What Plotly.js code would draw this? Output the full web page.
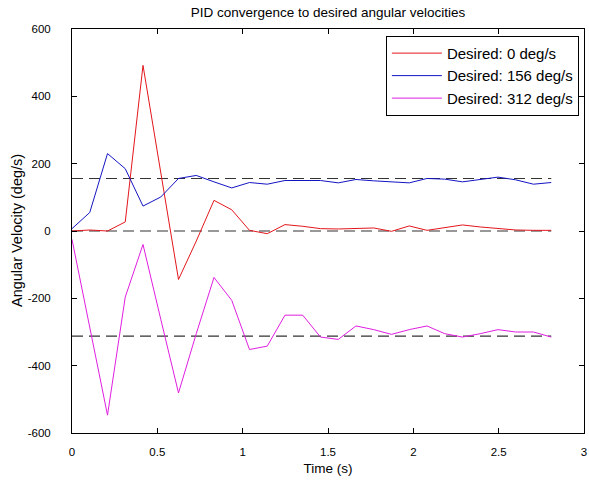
<!DOCTYPE html>
<html>
<head>
<meta charset="utf-8">
<script src="https://cdn.plot.ly/plotly-3.0.1.min.js"></script>
<style>html,body{margin:0;padding:0;background:#fff;}#chart{width:589px;height:482px;}</style>
</head>
<body>
<div id="chart"></div>
<script>
const time = [0, 0.104, 0.208, 0.312, 0.416, 0.52, 0.624, 0.728, 0.832, 0.936,
  1.04, 1.144, 1.248, 1.352, 1.456, 1.56, 1.664, 1.768, 1.872, 1.976,
  2.08, 2.184, 2.288, 2.392, 2.496, 2.6, 2.704, 2.808];
const desired0 = [0, 3, 0, 27, 492, 175, -144, -30, 91, 63,
  2, -8, 19, 14, 7, 6, 7, 9, -1, 15,
  2, 10, 18, 12, 8, 3, 2, 2];
const desired156 = [7, 55, 230, 185, 74, 101, 156, 165, 146, 128,
  144, 139, 150, 150, 150, 143, 153, 149, 147, 143,
  156, 154, 146, 153, 160, 152, 139, 144];
const desired312 = [-25, -290, -547, -196, -40, -262, -481, -305, -138, -206,
  -352, -342, -250, -250, -315, -322, -282, -293, -307, -293,
  -282, -305, -315, -305, -293, -300, -300, -315];
const refLevels = [156, 0, -312];
const refSpan = [0, 2.808];
const seriesNames = ['Desired: 0 deg/s', 'Desired: 156 deg/s', 'Desired: 312 deg/s'];
const seriesColors = ['#e3161c', '#1414c4', '#e01ee0'];
const yTicks = [-600, -400, -200, 0, 200, 400, 600];
const xTicks = [0, 0.5, 1, 1.5, 2, 2.5, 3];

const font = 'Liberation Sans, Arial, sans-serif';
const traces = [];
refLevels.forEach(v => {
  traces.push({x: refSpan, y: [v, v], mode: 'lines', showlegend: false, hoverinfo: 'skip',
    line: {color: '#333333', width: 1.2, dash: '11px,6px'}});
});
[desired0, desired156, desired312].forEach((s, k) => {
  traces.push({x: time, y: s, mode: 'lines', name: seriesNames[k],
    line: {color: seriesColors[k], width: 1}});
});

const layout = {
  width: 589, height: 482,
  margin: {l: 72, r: 5, t: 29, b: 49},
  paper_bgcolor: '#ffffff', plot_bgcolor: '#ffffff',
  font: {family: font, size: 11, color: '#000'},
  title: {text: 'PID convergence to desired angular velocities', font: {size: 13.5, family: font},
    x: 0.5, xref: 'paper', y: 1, yref: 'container', yanchor: 'top', pad: {t: 8}},
  xaxis: {range: [0, 3], tickvals: xTicks, ticktext: xTicks.map(String), ticks: 'inside', ticklen: 5,
    tickcolor: '#000', showline: true, linecolor: '#000', linewidth: 1, mirror: 'ticks',
    showgrid: false, zeroline: false, tickfont: {size: 11.5}, ticklabelstandoff: 8,
    title: {text: 'Time (s)', font: {size: 13.5}, standoff: 6}},
  yaxis: {range: [-600, 600], tickvals: yTicks, ticktext: yTicks.map(String), ticks: 'inside', ticklen: 5,
    tickcolor: '#000', showline: true, linecolor: '#000', linewidth: 1, mirror: 'ticks',
    showgrid: false, zeroline: false, tickfont: {size: 11.5}, ticklabelstandoff: 18},
  annotations: [{text: 'Angular Velocity (deg/s)', textangle: -90, xref: 'paper', yref: 'paper',
    x: -0.1074, y: 0.5, xanchor: 'center', yanchor: 'middle', showarrow: false,
    font: {size: 14.5, family: font}}],
  legend: {x: 0.99, y: 0.983, xanchor: 'right', yanchor: 'top', bgcolor: '#fff',
    bordercolor: '#000', borderwidth: 1, font: {size: 15, family: font}, itemwidth: 50,
    tracegroupgap: 0},
  showlegend: true
};
Plotly.newPlot('chart', traces, layout, {staticPlot: true, displayModeBar: false});
</script>
</body>
</html>
